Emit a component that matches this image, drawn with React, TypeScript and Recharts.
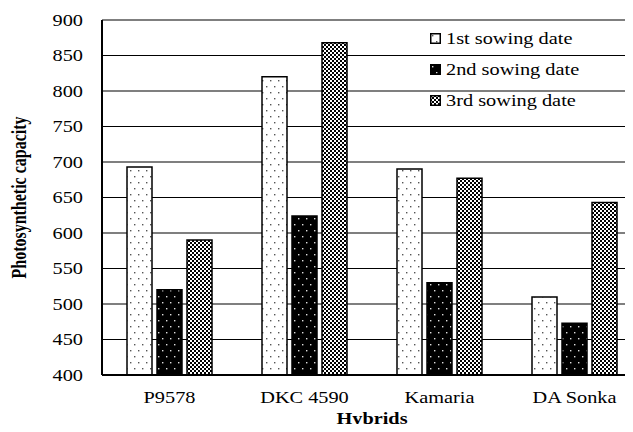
import { Bar, BarChart, CartesianGrid, XAxis, YAxis } from 'recharts';

const hybrids = ['P9578', 'DKC 4590', 'Kamaria', 'DA Sonka'];
const sowing1 = [693, 820, 690, 510];
const sowing2 = [520, 624, 530, 473];
const sowing3 = [590, 868, 677, 643];
const yTicks = [400, 450, 500, 550, 600, 650, 700, 750, 800, 850, 900];

const data = hybrids.map((name, i) => ({
  name,
  s1: sowing1[i],
  s2: sowing2[i],
  s3: sowing3[i],
}));

const font = '"Liberation Serif", "Times New Roman", serif';
// the original picture is stretched sideways, text included
const stretch = 1.27;

const legendItems = [
  { label: '1st sowing date', fill: 'url(#dotsLight)' },
  { label: '2nd sowing date', fill: 'url(#dotsDark)' },
  { label: '3rd sowing date', fill: 'url(#checker)' },
];

function YTick({ x, y, payload }: any) {
  return (
    <text
      transform={`translate(${x},${y}) scale(${stretch},1)`}
      textAnchor="end"
      dy="0.355em"
      fill="#000"
      fontSize={16}
      fontFamily={font}
    >
      {payload.value}
    </text>
  );
}

function XTick({ x, y, payload }: any) {
  return (
    <text
      transform={`translate(${x},${y}) scale(${stretch},1)`}
      textAnchor="middle"
      dy="0.71em"
      fill="#000"
      fontSize={16}
      fontFamily={font}
    >
      {payload.value}
    </text>
  );
}

function XLabel({ viewBox }: any) {
  const cx = viewBox.x + viewBox.width / 2;
  return (
    <text
      transform={`translate(${cx},424) scale(${stretch},1)`}
      textAnchor="middle"
      fill="#000"
      fontSize={16}
      fontWeight={700}
      fontFamily={font}
    >
      Hybrids
    </text>
  );
}

function YLabel({ viewBox }: any) {
  const cy = viewBox.y + viewBox.height / 2;
  return (
    <text
      transform={`translate(26,${cy}) scale(${stretch},1) rotate(-90)`}
      textAnchor="middle"
      fill="#000"
      fontSize={16}
      fontWeight={700}
      fontFamily={font}
    >
      Photosynthetic capacity
    </text>
  );
}

// drawn over the chart, like the Excel legend box
function LegendBox() {
  return (
    <div
      style={{
        position: 'absolute',
        left: 430,
        top: 23,
        fontFamily: font,
        fontSize: 16,
        color: '#000',
        lineHeight: '31px',
      }}
    >
      {legendItems.map(item => (
        <div key={item.label} style={{ display: 'flex', alignItems: 'center', whiteSpace: 'nowrap' }}>
          <svg width={11} height={11} style={{ marginRight: 5 }}>
            <rect x={0.75} y={0.75} width={9.5} height={9.5} fill={item.fill} stroke="#000" strokeWidth={1.5} />
          </svg>
          <span style={{ display: 'inline-block', transform: `scaleX(${stretch})`, transformOrigin: 'left center' }}>
            {item.label}
          </span>
        </div>
      ))}
    </div>
  );
}

export default function App() {
  return (
    <div style={{ width: 633, height: 432, overflow: 'hidden', margin: -8, background: '#fff', position: 'relative' }}>
      <BarChart
        width={642}
        height={432}
        data={data}
        margin={{ top: 20, right: 0, left: 0, bottom: 0 }}
        barSize={25}
        barGap={5}
      >
        <defs>
          <pattern id="dotsLight" width={8} height={12} patternUnits="userSpaceOnUse">
            <rect width={8} height={12} fill="#fff" />
            <rect x={2} y={2} width={1.4} height={1.4} fill="#555" />
            <rect x={6} y={8} width={1.4} height={1.4} fill="#555" />
          </pattern>
          <pattern id="dotsDark" width={8} height={12} patternUnits="userSpaceOnUse">
            <rect width={8} height={12} fill="#000" />
            <rect x={2} y={2} width={1.4} height={1.4} fill="#ddd" />
            <rect x={6} y={8} width={1.4} height={1.4} fill="#ddd" />
          </pattern>
          <pattern id="checker" width={4} height={4} patternUnits="userSpaceOnUse">
            <rect width={4} height={4} fill="#fff" />
            <rect x={0} y={0} width={2} height={2} fill="#000" />
            <rect x={2} y={2} width={2} height={2} fill="#000" />
          </pattern>
        </defs>
        <CartesianGrid vertical={false} stroke="#000" strokeWidth={1.2} />
        <XAxis
          dataKey="name"
          height={57}
          tickLine={false}
          axisLine={{ stroke: '#000', strokeWidth: 2 }}
          tickMargin={11}
          tick={<XTick />}
          label={<XLabel />}
        />
        <YAxis
          width={102}
          domain={[400, 900]}
          ticks={yTicks}
          interval={0}
          tickLine={false}
          axisLine={{ stroke: '#000', strokeWidth: 2 }}
          tickMargin={13}
          tick={<YTick />}
          label={<YLabel />}
        />
        <Bar dataKey="s1" name="1st sowing date" fill="url(#dotsLight)" stroke="#000" strokeWidth={1.5} isAnimationActive={false} />
        <Bar dataKey="s2" name="2nd sowing date" fill="url(#dotsDark)" stroke="#000" strokeWidth={1.5} isAnimationActive={false} />
        <Bar dataKey="s3" name="3rd sowing date" fill="url(#checker)" stroke="#000" strokeWidth={1.5} isAnimationActive={false} />
      </BarChart>
      <LegendBox />
    </div>
  );
}
